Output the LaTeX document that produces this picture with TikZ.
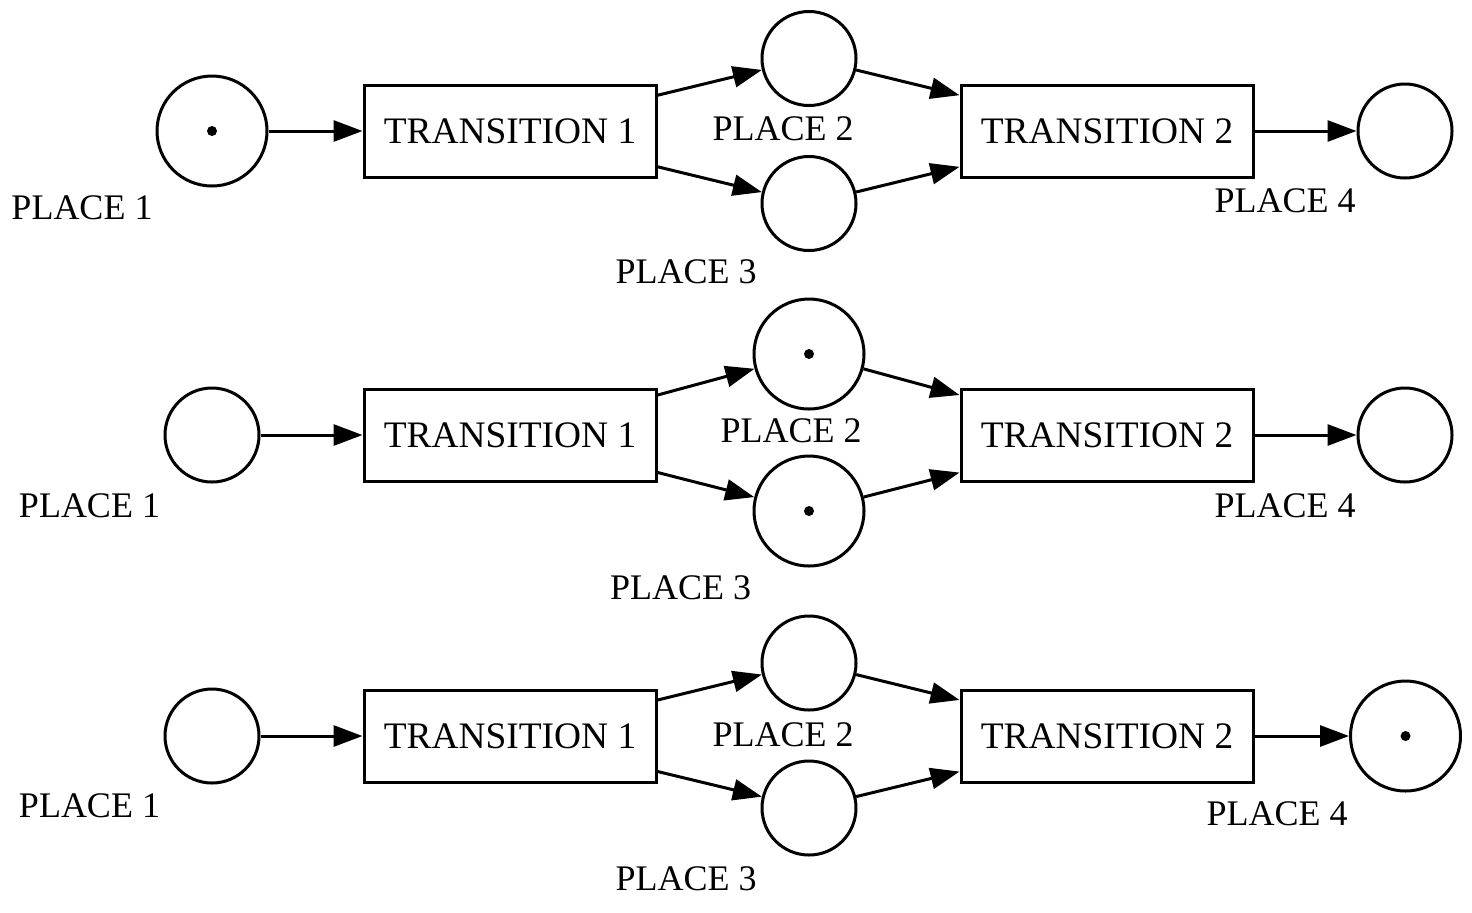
\documentclass[tikz,border=0pt]{standalone}
\usepackage{fontspec}
\setmainfont{Liberation Serif}
\usepackage{tikz}
\usetikzlibrary{shapes.geometric, arrows}
\usetikzlibrary{arrows.meta}
\tikzstyle{place} = [circle, draw=black, line width=1.5pt, minimum size=47pt, inner sep=0pt]
\tikzstyle{marked} = [place, minimum size=55pt]
\tikzstyle{transition} = [rectangle, draw=black, line width=1.5pt, minimum width=146pt, minimum height=46pt, inner sep=0pt, font=\fontsize{18.7}{22}\selectfont]
\tikzstyle{tag} = [anchor=base, inner sep=0pt, font=\fontsize{18}{22}\selectfont]
\tikzstyle{arrow} = [line width=1.5pt, -{Triangle[length=14.5pt, width=10.5pt]}]
\tikzstyle{token} = [fill=black]

\begin{document}
\begin{tikzpicture}[x=0.5pt, y=-0.5pt]
    \useasboundingbox (0,0) rectangle (1472,912);

    % first marking: token in place 1
    \node[marked] (p1a) at (212,131) {};
    \node[transition] (t1a) at (510,131) {TRANSITION 1};
    \node[place] (p2a) at (809,58.5) {};
    \node[place] (p3a) at (809,203.5) {};
    \node[transition] (t2a) at (1107,131) {TRANSITION 2};
    \node[place] (p4a) at (1405,131) {};
    \fill[token] (p1a) circle (2.5pt);

    \node[tag] (l1a) at (82,219) {PLACE 1};
    \node[tag] (l2a) at (783,140) {PLACE 2};
    \node[tag] (l3a) at (686,283) {PLACE 3};
    \node[tag] (l4a) at (1285,212) {PLACE 4};

    \draw[arrow] (p1a) -- (t1a);
    \draw[arrow] (t1a) -- (p2a);
    \draw[arrow] (t1a) -- (p3a);
    \draw[arrow] (p2a) -- (t2a);
    \draw[arrow] (p3a) -- (t2a);
    \draw[arrow] (t2a) -- (p4a);

    % second marking: transition 1 fired
    \node[place] (p1b) at (212,435) {};
    \node[transition] (t1b) at (510,435) {TRANSITION 1};
    \node[marked] (p2b) at (809,354) {};
    \node[marked] (p3b) at (809,511) {};
    \node[transition] (t2b) at (1107,435) {TRANSITION 2};
    \node[place] (p4b) at (1405,435) {};
    \fill[token] (p2b) circle (2.5pt);
    \fill[token] (p3b) circle (2.5pt);

    \node[tag] (l1b) at (89.5,517) {PLACE 1};
    \node[tag] (l2b) at (791,442) {PLACE 2};
    \node[tag] (l3b) at (680.5,599) {PLACE 3};
    \node[tag] (l4b) at (1285,517) {PLACE 4};

    \draw[arrow] (p1b) -- (t1b);
    \draw[arrow] (t1b) -- (p2b);
    \draw[arrow] (t1b) -- (p3b);
    \draw[arrow] (p2b) -- (t2b);
    \draw[arrow] (p3b) -- (t2b);
    \draw[arrow] (t2b) -- (p4b);

    % third marking: transition 2 fired
    \node[place] (p1c) at (212,736) {};
    \node[transition] (t1c) at (510,736) {TRANSITION 1};
    \node[place] (p2c) at (809,663) {};
    \node[place] (p3c) at (809,808) {};
    \node[transition] (t2c) at (1107,736) {TRANSITION 2};
    \node[marked] (p4c) at (1405.5,736) {};
    \fill[token] (p4c) circle (2.5pt);

    \node[tag] (l1c) at (89.5,817) {PLACE 1};
    \node[tag] (l2c) at (783,746) {PLACE 2};
    \node[tag] (l3c) at (686,890) {PLACE 3};
    \node[tag] (l4c) at (1277,825) {PLACE 4};

    \draw[arrow] (p1c) -- (t1c);
    \draw[arrow] (t1c) -- (p2c);
    \draw[arrow] (t1c) -- (p3c);
    \draw[arrow] (p2c) -- (t2c);
    \draw[arrow] (p3c) -- (t2c);
    \draw[arrow] (t2c) -- (p4c);
\end{tikzpicture}
\end{document}
